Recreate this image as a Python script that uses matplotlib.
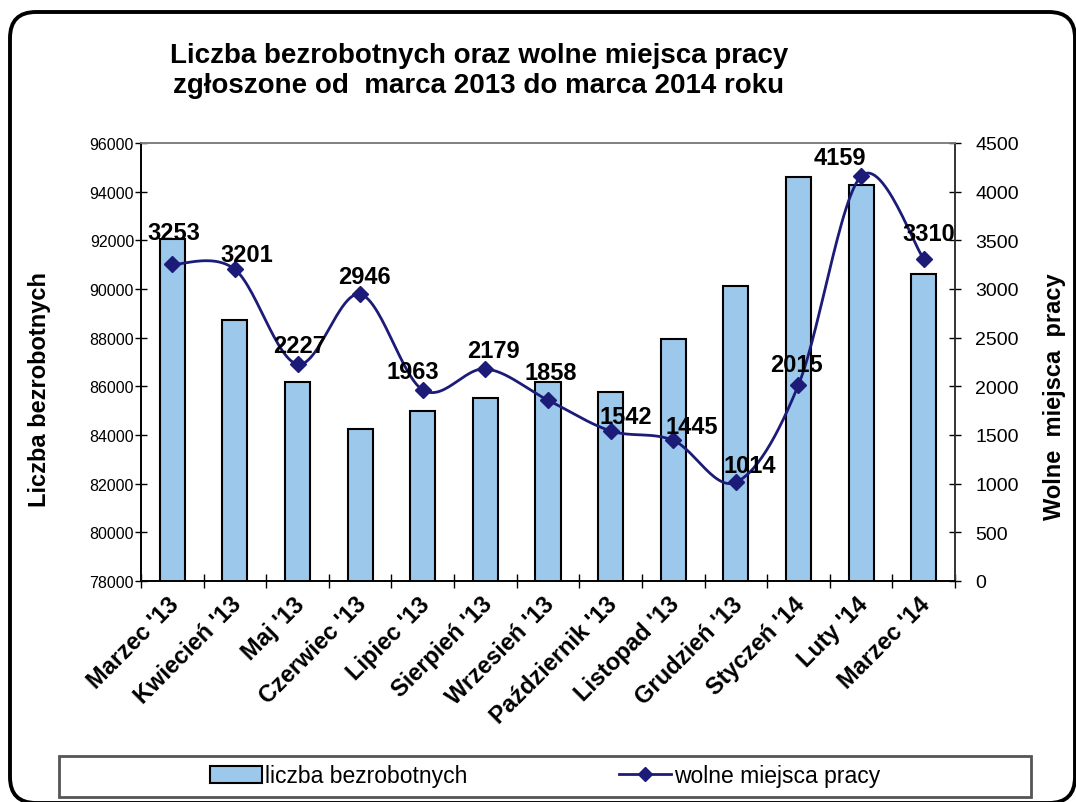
import numpy as np
import matplotlib
matplotlib.use('Agg')
import matplotlib.pyplot as plt
import matplotlib.transforms as mtransforms
from matplotlib.patches import FancyBboxPatch, Rectangle, Patch
from matplotlib.lines import Line2D
from matplotlib.ticker import FixedLocator

plt.rcParams['font.family'] = ['Liberation Sans', 'DejaVu Sans']

months = ["Marzec '13", "Kwiecień '13", "Maj '13", "Czerwiec '13", "Lipiec '13",
          "Sierpień '13", "Wrzesień '13", "Październik '13", "Listopad '13",
          "Grudzień '13", "Styczeń '14", "Luty '14", "Marzec '14"]
unemployed = [92050, 88740, 86180, 84240, 84990, 85530, 86190,
              85750, 87960, 90110, 94610, 94290, 90630]
vacancies = [3253, 3201, 2227, 2946, 1963, 2179, 1858,
             1542, 1445, 1014, 2015, 4159, 3310]

# label offsets for the vacancy values (pixels, right / up)
label_offsets = [(2, 32), (12, 15), (2, 19), (4, 18), (-10, 18), (8, 18), (3, 28),
                 (15, 14), (19, 14), (14, 17), (-2, 20), (-21, 19), (5, 25)]

bar_color = '#9cc8ec'
line_color = '#1c1c78'


def smooth(xs, ys, n=30):
    # Excel-like smoothed line: Catmull-Rom segments as cubic Bezier
    pts = np.column_stack((xs, ys)).astype(float)
    out = []
    for i in range(len(pts) - 1):
        p0 = pts[max(i - 1, 0)]
        p1 = pts[i]
        p2 = pts[i + 1]
        p3 = pts[min(i + 2, len(pts) - 1)]
        c1 = p1 + (p2 - p0) / 6
        c2 = p2 - (p3 - p1) / 6
        t = np.linspace(0, 1, n)[:, None]
        seg = ((1 - t) ** 3) * p1 + 3 * ((1 - t) ** 2) * t * c1 + 3 * (1 - t) * t ** 2 * c2 + t ** 3 * p2
        out.append(seg if i == 0 else seg[1:])
    out = np.vstack(out)
    return out[:, 0], out[:, 1]


fig = plt.figure(figsize=(10.76, 8.03), dpi=100)
ax = fig.add_axes([141 / 1076, 1 - 582 / 803, 814 / 1076, 438 / 803])
ax2 = ax.twinx()

x = np.arange(len(months))
ax.bar(x, unemployed, width=0.4, color=bar_color, edgecolor='black', linewidth=1.5, zorder=2)
ax.set_ylim(78000, 96000)
ax.set_xlim(-0.5, len(months) - 0.5)
ax.set_yticks(np.arange(78000, 96001, 2000))
ax.tick_params(axis='y', direction='inout', length=9, width=1, labelsize=11.5, pad=0.5)

ax.set_xticks(x)
ax.set_xticklabels(months, rotation=45, ha='right', va='top', rotation_mode='anchor',
                   fontsize=17, fontweight='bold')
ax.tick_params(axis='x', length=0, pad=8)
shift = mtransforms.ScaledTranslation(-5 / 100, 0, fig.dpi_scale_trans)
for lbl in ax.get_xticklabels():
    lbl.set_transform(lbl.get_transform() + shift)
ax.xaxis.set_minor_locator(FixedLocator(np.arange(-0.5, len(months), 1.0)))
ax.tick_params(axis='x', which='minor', direction='inout', length=10, width=1)

sx, sy = smooth(x, vacancies)
ax2.plot(sx, sy, color=line_color, linewidth=2, zorder=3)
ax2.plot(x, vacancies, linestyle='none', marker='D', markersize=8,
         color=line_color, zorder=4)
ax2.set_ylim(0, 4500)
ax2.set_yticks(np.arange(0, 4501, 500))
ax2.tick_params(axis='y', direction='inout', length=9, width=1, labelsize=14, pad=10)

for xi, v, (dx, dy) in zip(x, vacancies, label_offsets):
    ax2.annotate(str(v), (xi, v), xytext=(dx * 0.72, dy * 0.72), textcoords='offset points',
                 ha='center', va='center', fontsize=17, fontweight='bold', zorder=5)

for a in (ax, ax2):
    a.spines['top'].set_color('#808080')
    a.spines['left'].set_color('black')
    a.spines['right'].set_color('#333333')
    a.spines['bottom'].set_color('black')
    for s in a.spines.values():
        s.set_linewidth(1.2)

fig.text(479 / 1076, 1 - 71 / 803,
         "Liczba bezrobotnych oraz wolne miejsca pracy\nzgłoszone od  marca 2013 do marca 2014 roku",
         ha='center', va='center', fontsize=20, fontweight='bold', linespacing=1.2)
fig.text(40 / 1076, 1 - 390 / 803, "Liczba bezrobotnych", rotation=90,
         ha='center', va='center', fontsize=17, fontweight='bold')
fig.text(1055 / 1076, 1 - 397 / 803, "Wolne  miejsca  pracy", rotation=90,
         ha='center', va='center', fontsize=17, fontweight='bold')

# legend box
fig.patches.append(Rectangle((59 / 1076, 1 - 798 / 803), 972 / 1076, 41 / 803,
                             transform=fig.transFigure, facecolor='white',
                             edgecolor='#555555', linewidth=2))
handles = [Patch(facecolor=bar_color, edgecolor='black', linewidth=1.5),
           Line2D([], [], color=line_color, marker='D', markersize=7, linewidth=2)]
fig.legend(handles, ['liczba bezrobotnych', 'wolne miejsca pracy'],
           loc='center', bbox_to_anchor=(545 / 1076, 1 - 777 / 803), ncol=2,
           frameon=False, handlelength=2.27, handletextpad=0.15, columnspacing=6.6,
           prop={'size': 16.5})

# rounded outer frame, in inches
fig.patches.append(FancyBboxPatch((10 / 100, -1 / 100), 1065 / 100, 791 / 100,
                                  boxstyle='round,pad=0,rounding_size=0.26',
                                  transform=fig.dpi_scale_trans, facecolor='none',
                                  edgecolor='black', linewidth=2.8))

fig.savefig('out.png', dpi=100)
